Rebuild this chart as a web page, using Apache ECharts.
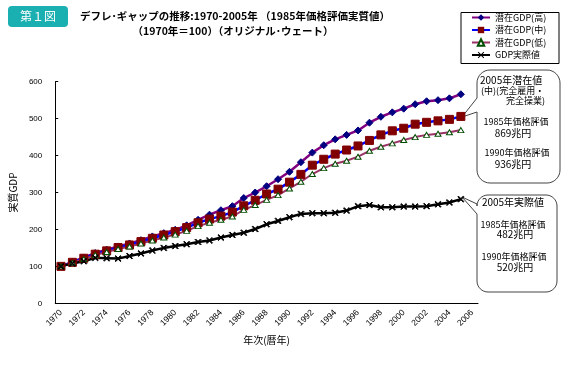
<!DOCTYPE html>
<html>
<head>
<meta charset="utf-8">
<script src="https://cdn.jsdelivr.net/npm/echarts@6/dist/echarts.min.js"></script>
<style>html,body{margin:0;padding:0;background:#fff}#c{width:568px;height:370px}</style>
</head>
<body>
<div id="c"></div>
<script>
var years = [];
for (var y = 1970; y <= 2006; y++) years.push(String(y));
var seriesNames = ['潜在GDP(高)', '潜在GDP(中)', '潜在GDP(低)', 'GDP実際値'];
var gdpHigh = [100,112,124,136,145,154,162,171,181,190,
               199,211,226,240,252,263,285,300,317,336,
               356,382,408,428,444,456,468,489,505,517,
               527,539,547,550,555,566];
var gdpMid  = [100,111,122,133,142,151,158,167,176,185,
               194,205,218,228,236,247,264,279,296,309,
               328,349,374,390,404,415,426,441,456,467,
               474,485,490,494,498,506];
var gdpLow  = [100,110,120,131,139,147,154,162,170,178,
               186,196,209,218,226,235,253,266,280,293,
               311,329,350,366,378,386,397,413,424,433,
               442,450,456,459,463,469];
var gdpReal = [100,108,114,123,122,121,128,135,143,150,
               155,160,166,170,178,185,191,201,214,223,
               233,242,244,244,245,251,263,266,260,260,
               262,262,263,268,273,282];
var yTicks = [0,100,200,300,400,500,600];
var titleLine1 = 'デフレ･ギャップの推移:1970-2005年 （1985年価格評価実質値）';
var titleLine2 = '（1970年＝100）（オリジナル･ウェート）';
var badgeText = '第１図';
var note1 = ['2005年潜在値', '(中)(完全雇用・', '完全操業)', '1985年価格評価', '869兆円', '1990年価格評価', '936兆円'];
var note2 = ['2005年実際値', '1985年価格評価', '482兆円', '1990年価格評価', '520兆円'];

var FONT = '"Noto Sans CJK JP", "Noto Sans", sans-serif';
var crossPath = 'path://M0,1L1,0L5,4L9,0L10,1L6,5L10,9L9,10L5,6L1,10L0,9L4,5Z';

function txt(t, x, y, size, align, weight, fill) {
  return {type: 'text', x: x, y: y, silent: true,
    style: {text: t, fill: fill || '#000', font: (weight || 'normal') + ' ' + size + 'px ' + FONT,
      textAlign: align || 'center', textVerticalAlign: 'middle'}};
}

// speech bubble outline: rounded box with a pointer on the left edge
function bubble(x0, y0, x1, y1, r, baseTop, baseBot, tipX, tipY) {
  var pts = [];
  function arc(cx, cy, a0, a1) {
    for (var i = 0; i <= 8; i++) {
      var a = a0 + (a1 - a0) * i / 8;
      pts.push([cx + r * Math.cos(a), cy + r * Math.sin(a)]);
    }
  }
  var P = Math.PI;
  arc(x0 + r, y0 + r, P, 1.5 * P);
  arc(x1 - r, y0 + r, 1.5 * P, 2 * P);
  arc(x1 - r, y1 - r, 0, 0.5 * P);
  arc(x0 + r, y1 - r, 0.5 * P, P);
  pts.push([x0, baseBot]); pts.push([tipX, tipY]); pts.push([x0, baseTop]);
  return {type: 'polygon', silent: true, shape: {points: pts},
    style: {fill: '#fff', stroke: '#444', lineWidth: 1}};
}

var chart = echarts.init(document.getElementById('c'));
var graphics = [
  {type: 'rect', shape: {x: 8, y: 6, width: 60, height: 21, r: 4}, style: {fill: '#1aafb0'}},
  txt(badgeText, 38, 16.5, 12, 'center', 'normal', '#fff'),
  txt(titleLine1, 235, 16, 10.5, 'center', 'bold'),
  txt(titleLine2, 233, 31, 10.5, 'center', 'bold'),
  {type: 'rect', shape: {x: 461, y: 12.5, width: 98, height: 51}, style: {fill: 'none', stroke: '#000', lineWidth: 1}},
  bubble(477, 70, 560, 183, 13, 98, 112, 462, 117),
  bubble(477, 195, 557, 292, 11, 204, 214, 462, 197),
  txt(note1[0], 480, 80, 10, 'left'),
  txt(note1[1], 481, 91, 9, 'left'),
  txt(note1[2], 545, 101, 9, 'right'),
  txt(note1[3], 516, 122, 9, 'center'),
  txt(note1[4], 513, 133, 10, 'center'),
  txt(note1[5], 517, 153, 9, 'center'),
  txt(note1[6], 513, 164, 10, 'center'),
  txt(note2[0], 513, 202, 10, 'center'),
  txt(note2[1], 513, 225, 9, 'center'),
  txt(note2[2], 515, 234, 10, 'center'),
  txt(note2[3], 514, 257, 9, 'center'),
  txt(note2[4], 515, 267, 10, 'center')
];

chart.setOption({
  animation: false,
  backgroundColor: '#fff',
  textStyle: {fontFamily: FONT},
  grid: {left: 47, right: 90, top: 81.7, bottom: 66.7, containLabel: false},
  legend: {
    orient: 'vertical', left: 471, top: 13, itemGap: 3.5, itemWidth: 18, itemHeight: 8,
    padding: 0, textStyle: {fontSize: 9, fontFamily: FONT, color: '#000'},
    data: seriesNames
  },
  xAxis: {
    type: 'category', data: years, boundaryGap: true,
    name: '年次(暦年)', nameLocation: 'middle', nameGap: 22,
    nameTextStyle: {fontSize: 10, color: '#000', fontFamily: FONT},
    axisLine: {lineStyle: {color: '#000', width: 1}},
    axisTick: {inside: true, length: 3, interval: 0, lineStyle: {color: '#000'}},
    axisLabel: {interval: 1, rotate: 45, fontSize: 8.5, color: '#000', margin: 8, fontFamily: 'Liberation Sans'},
    splitLine: {show: false}
  },
  yAxis: {
    type: 'value', min: yTicks[0], max: yTicks[yTicks.length - 1], interval: 100,
    name: '実質GDP', nameLocation: 'middle', nameGap: 30, nameRotate: 90,
    nameTextStyle: {fontSize: 10, color: '#000', fontFamily: FONT},
    axisLine: {show: true, lineStyle: {color: '#000', width: 1}},
    axisTick: {show: true, inside: true, length: 3, lineStyle: {color: '#000'}},
    axisLabel: {fontSize: 8, color: '#000', margin: 13, fontFamily: 'Liberation Sans'},
    splitLine: {show: false}
  },
  series: [
    {name: seriesNames[0], type: 'line', data: gdpHigh, symbol: 'diamond', symbolSize: 7, showAllSymbol: true,
      lineStyle: {color: '#800080', width: 2.5}, itemStyle: {color: '#000080', borderColor: '#000080'}},
    {name: seriesNames[1], type: 'line', data: gdpMid, symbol: 'rect', symbolSize: 8, showAllSymbol: true,
      lineStyle: {color: '#0000ff', width: 2.5}, itemStyle: {color: '#800000', borderColor: '#800000'}},
    {name: seriesNames[2], type: 'line', data: gdpLow, symbol: 'triangle', symbolSize: [6, 5], showAllSymbol: true,
      lineStyle: {color: '#993366', width: 2}, itemStyle: {color: '#fff', borderColor: '#004d00', borderWidth: 1}},
    {name: seriesNames[3], type: 'line', data: gdpReal, symbol: crossPath, symbolSize: 6, showAllSymbol: true,
      lineStyle: {color: '#000', width: 2.5}, itemStyle: {color: '#000', borderColor: '#000'}}
  ],
  graphic: graphics
});
</script>
</body>
</html>
